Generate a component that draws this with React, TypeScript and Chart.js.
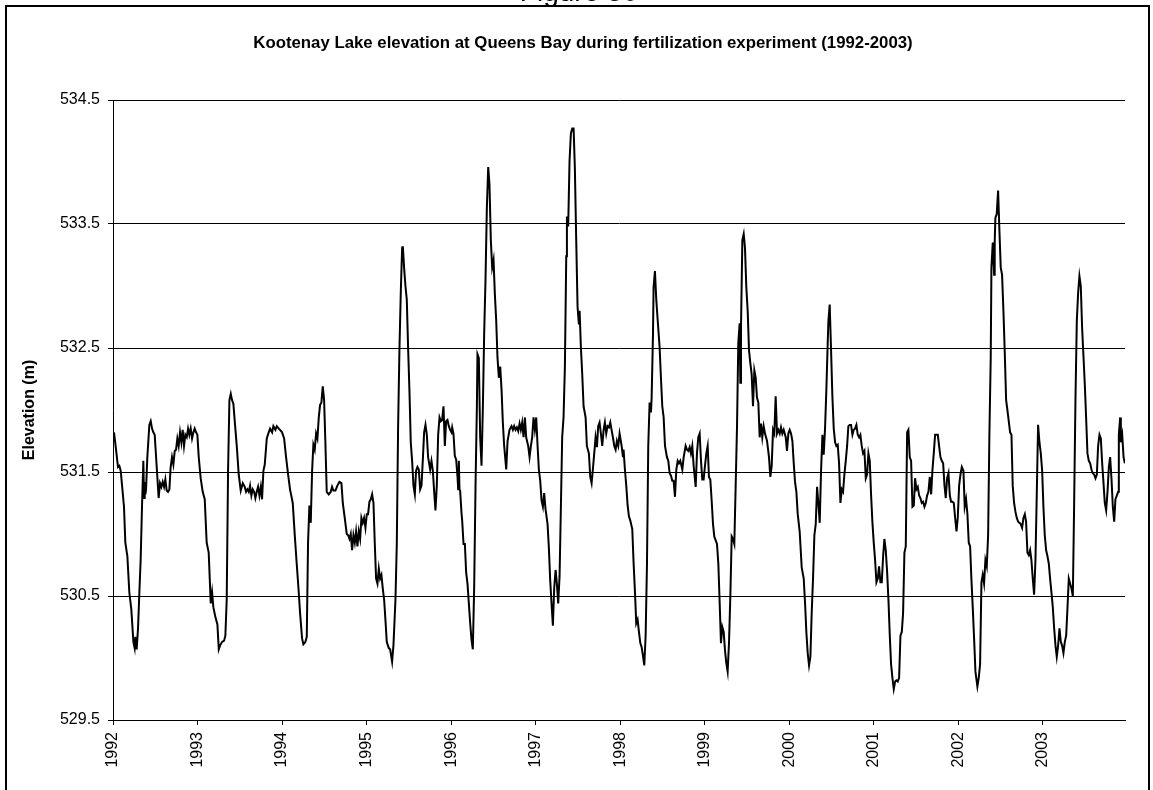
import React, { useEffect, useRef } from 'react';
import { Chart, registerables } from 'chart.js';

Chart.register(...registerables);

const figureLabel = 'Figure 30';
const chartTitle = 'Kootenay Lake elevation at Queens Bay during fertilization experiment (1992-2003)';
const yAxisTitle = 'Elevation (m)';
const yTickValues = [529.5, 530.5, 531.5, 532.5, 533.5, 534.5];
const xTickYears = [1992, 1993, 1994, 1995, 1996, 1997, 1998, 1999, 2000, 2001, 2002, 2003];

// [decimal year, elevation (m)]
const lake1992: [number, number][] = [
  [1992.012, 531.82], [1992.036, 531.68], [1992.059, 531.54], [1992.075, 531.55], [1992.091, 531.51],
  [1992.114, 531.34], [1992.130, 531.22], [1992.146, 530.93], [1992.170, 530.82], [1992.193, 530.53],
  [1992.217, 530.39], [1992.241, 530.13], [1992.256, 530.08], [1992.264, 530.17], [1992.280, 530.07],
  [1992.296, 530.24], [1992.312, 530.53], [1992.327, 530.79], [1992.343, 531.22], [1992.359, 531.59],
  [1992.367, 531.29], [1992.375, 531.42], [1992.383, 531.32], [1992.391, 531.36], [1992.406, 531.62],
  [1992.430, 531.88], [1992.446, 531.91], [1992.462, 531.85], [1992.477, 531.82], [1992.493, 531.80],
  [1992.517, 531.54], [1992.540, 531.29], [1992.556, 531.41], [1992.572, 531.38], [1992.588, 531.42],
  [1992.604, 531.38], [1992.619, 531.44], [1992.635, 531.35], [1992.651, 531.34], [1992.667, 531.36],
  [1992.682, 531.54], [1992.698, 531.62], [1992.714, 531.56], [1992.730, 531.67], [1992.746, 531.68],
  [1992.761, 531.77], [1992.777, 531.71], [1992.793, 531.82], [1992.809, 531.74], [1992.824, 531.84],
  [1992.840, 531.71], [1992.856, 531.80], [1992.872, 531.78], [1992.888, 531.85], [1992.903, 531.80],
  [1992.919, 531.85], [1992.935, 531.77], [1992.951, 531.82], [1992.966, 531.85], [1992.982, 531.82],
  [1992.998, 531.80],
];

const lake1993: [number, number][] = [
  [1993.014, 531.62], [1993.037, 531.45], [1993.061, 531.34], [1993.085, 531.28], [1993.108, 530.93],
  [1993.132, 530.85], [1993.156, 530.44], [1993.172, 530.53], [1993.187, 530.41], [1993.211, 530.33],
  [1993.235, 530.27], [1993.251, 530.07], [1993.266, 530.10], [1993.290, 530.13], [1993.314, 530.14],
  [1993.329, 530.18], [1993.345, 530.47], [1993.361, 531.51], [1993.377, 532.08], [1993.393, 532.13],
  [1993.408, 532.08], [1993.424, 532.05], [1993.440, 531.91], [1993.464, 531.71], [1993.487, 531.48],
  [1993.511, 531.35], [1993.535, 531.41], [1993.558, 531.38], [1993.574, 531.34], [1993.590, 531.36],
  [1993.606, 531.34], [1993.621, 531.39], [1993.637, 531.31], [1993.653, 531.36], [1993.669, 531.34],
  [1993.684, 531.29], [1993.700, 531.34], [1993.716, 531.38], [1993.732, 531.31], [1993.748, 531.38],
  [1993.763, 531.28], [1993.779, 531.51], [1993.795, 531.56], [1993.819, 531.77], [1993.842, 531.82],
  [1993.858, 531.85], [1993.882, 531.82], [1993.897, 531.87], [1993.921, 531.84], [1993.937, 531.87],
  [1993.961, 531.85], [1993.976, 531.84],
];

const lake1994: [number, number][] = [
  [1994.000, 531.82], [1994.024, 531.77], [1994.047, 531.62], [1994.071, 531.48], [1994.094, 531.36],
  [1994.126, 531.25], [1994.150, 530.99], [1994.173, 530.76], [1994.197, 530.53], [1994.213, 530.36],
  [1994.236, 530.16], [1994.252, 530.11], [1994.276, 530.13], [1994.292, 530.17], [1994.307, 530.93],
  [1994.323, 531.23], [1994.339, 531.09], [1994.355, 531.51], [1994.370, 531.72], [1994.386, 531.68],
  [1994.402, 531.81], [1994.418, 531.77], [1994.434, 531.94], [1994.449, 532.04], [1994.465, 532.06],
  [1994.481, 532.19], [1994.497, 532.08], [1994.512, 531.74], [1994.528, 531.34], [1994.552, 531.32],
  [1994.576, 531.34], [1994.591, 531.38], [1994.607, 531.35], [1994.631, 531.35], [1994.654, 531.39],
  [1994.678, 531.42], [1994.702, 531.41], [1994.718, 531.25], [1994.741, 531.13], [1994.765, 531.00],
  [1994.781, 530.99], [1994.797, 530.96], [1994.812, 531.00], [1994.828, 530.87], [1994.844, 530.99],
  [1994.860, 530.93], [1994.875, 531.02], [1994.891, 530.90], [1994.907, 531.02], [1994.923, 530.96],
  [1994.938, 531.13], [1994.954, 531.09], [1994.970, 531.13], [1994.986, 531.05],
];

const lake1995: [number, number][] = [
  [1995.002, 531.16], [1995.017, 531.16], [1995.033, 531.26], [1995.049, 531.28], [1995.065, 531.32],
  [1995.081, 531.25], [1995.096, 530.93], [1995.112, 530.64], [1995.128, 530.60], [1995.144, 530.72],
  [1995.159, 530.64], [1995.175, 530.67], [1995.191, 530.56], [1995.207, 530.47], [1995.223, 530.30],
  [1995.238, 530.13], [1995.262, 530.08], [1995.278, 530.07], [1995.301, 529.97], [1995.317, 530.10],
  [1995.341, 530.47], [1995.357, 530.93], [1995.372, 531.85], [1995.388, 532.49], [1995.404, 532.95],
  [1995.420, 533.31], [1995.428, 533.32], [1995.443, 533.15], [1995.459, 533.00], [1995.475, 532.89],
  [1995.491, 532.49], [1995.507, 532.14], [1995.522, 531.74], [1995.538, 531.59], [1995.554, 531.39],
  [1995.570, 531.32], [1995.585, 531.51], [1995.601, 531.54], [1995.617, 531.52], [1995.633, 531.36],
  [1995.649, 531.39], [1995.664, 531.59], [1995.680, 531.82], [1995.696, 531.88], [1995.712, 531.80],
  [1995.727, 531.62], [1995.751, 531.52], [1995.767, 531.59], [1995.783, 531.51], [1995.799, 531.34],
  [1995.814, 531.19], [1995.830, 531.39], [1995.846, 531.80], [1995.862, 531.94], [1995.877, 531.91],
  [1995.893, 531.92], [1995.909, 532.03], [1995.925, 531.71], [1995.940, 531.91], [1995.956, 531.92],
  [1995.972, 531.87], [1995.988, 531.84],
];

const lake1996: [number, number][] = [
  [1996.004, 531.82], [1996.012, 531.86], [1996.027, 531.81], [1996.043, 531.63], [1996.059, 531.60],
  [1996.075, 531.46], [1996.083, 531.36], [1996.091, 531.59], [1996.098, 531.36], [1996.106, 531.35],
  [1996.122, 531.17], [1996.130, 531.11], [1996.146, 530.92], [1996.162, 530.92], [1996.177, 530.69],
  [1996.193, 530.60], [1996.209, 530.44], [1996.225, 530.28], [1996.240, 530.15], [1996.256, 530.07],
  [1996.272, 530.57], [1996.288, 531.39], [1996.304, 532.03], [1996.311, 532.45], [1996.327, 532.42],
  [1996.343, 531.78], [1996.359, 531.55], [1996.375, 532.03], [1996.390, 532.61], [1996.406, 533.05],
  [1996.422, 533.63], [1996.438, 533.96], [1996.453, 533.82], [1996.469, 533.37], [1996.485, 533.15],
  [1996.501, 533.21], [1996.517, 532.93], [1996.532, 532.73], [1996.548, 532.42], [1996.564, 532.26],
  [1996.580, 532.35], [1996.596, 532.16], [1996.611, 531.90], [1996.627, 531.71], [1996.651, 531.52],
  [1996.667, 531.75], [1996.690, 531.84], [1996.714, 531.87], [1996.730, 531.84], [1996.745, 531.87],
  [1996.761, 531.84], [1996.777, 531.86], [1996.793, 531.83], [1996.809, 531.89], [1996.824, 531.84],
  [1996.840, 531.90], [1996.856, 531.78], [1996.872, 531.94], [1996.887, 531.78], [1996.911, 531.71],
  [1996.927, 531.62], [1996.943, 531.71], [1996.958, 531.78], [1996.974, 531.94], [1996.990, 531.84],
];

const lake1997: [number, number][] = [
  [1997.006, 531.94], [1997.022, 531.71], [1997.037, 531.52], [1997.053, 531.43], [1997.069, 531.27],
  [1997.085, 531.22], [1997.100, 531.33], [1997.116, 531.20], [1997.140, 531.08], [1997.156, 530.88],
  [1997.171, 530.63], [1997.187, 530.44], [1997.203, 530.26], [1997.219, 530.57], [1997.235, 530.71],
  [1997.250, 530.60], [1997.266, 530.44], [1997.282, 530.66], [1997.298, 531.23], [1997.313, 531.78],
  [1997.329, 531.94], [1997.345, 532.35], [1997.361, 533.24], [1997.369, 533.56], [1997.384, 533.48],
  [1997.400, 534.01], [1997.416, 534.23], [1997.432, 534.27], [1997.448, 534.27], [1997.463, 533.95],
  [1997.479, 533.37], [1997.495, 532.83], [1997.511, 532.69], [1997.519, 532.80], [1997.534, 532.51],
  [1997.550, 532.29], [1997.566, 532.03], [1997.590, 531.94], [1997.605, 531.71], [1997.629, 531.65],
  [1997.645, 531.46], [1997.661, 531.41], [1997.676, 531.52], [1997.692, 531.65], [1997.708, 531.78],
  [1997.724, 531.70], [1997.739, 531.87], [1997.755, 531.90], [1997.771, 531.81], [1997.787, 531.71],
  [1997.803, 531.84], [1997.818, 531.90], [1997.834, 531.81], [1997.850, 531.87], [1997.866, 531.86],
  [1997.882, 531.90], [1997.897, 531.84], [1997.913, 531.78], [1997.929, 531.71], [1997.945, 531.68],
  [1997.960, 531.75], [1997.976, 531.71], [1997.992, 531.81],
];

const lake1998: [number, number][] = [
  [1998.016, 531.71], [1998.032, 531.62], [1998.039, 531.68], [1998.055, 531.52], [1998.071, 531.39],
  [1998.087, 531.23], [1998.103, 531.14], [1998.118, 531.11], [1998.142, 531.04], [1998.158, 530.76],
  [1998.174, 530.53], [1998.189, 530.28], [1998.205, 530.31], [1998.221, 530.21], [1998.237, 530.12],
  [1998.252, 530.09], [1998.268, 530.02], [1998.284, 529.94], [1998.300, 530.18], [1998.316, 530.76],
  [1998.331, 531.71], [1998.347, 532.06], [1998.363, 531.98], [1998.371, 532.10], [1998.387, 532.61],
  [1998.394, 532.99], [1998.410, 533.12], [1998.426, 532.89], [1998.442, 532.73], [1998.465, 532.51],
  [1998.481, 532.26], [1998.497, 532.03], [1998.513, 531.94], [1998.529, 531.71], [1998.552, 531.62],
  [1998.568, 531.59], [1998.584, 531.49], [1998.600, 531.47], [1998.615, 531.43], [1998.631, 531.43],
  [1998.647, 531.30], [1998.663, 531.52], [1998.679, 531.59], [1998.694, 531.57], [1998.710, 531.59],
  [1998.734, 531.52], [1998.750, 531.62], [1998.773, 531.71], [1998.789, 531.68], [1998.805, 531.67],
  [1998.821, 531.70], [1998.836, 531.65], [1998.852, 531.71], [1998.868, 531.55], [1998.892, 531.38],
  [1998.907, 531.65], [1998.923, 531.78], [1998.939, 531.81], [1998.955, 531.59], [1998.970, 531.44],
  [1998.986, 531.44],
];

const lake1999: [number, number][] = [
  [1999.002, 531.55], [1999.018, 531.65], [1999.034, 531.71], [1999.049, 531.46], [1999.065, 531.44],
  [1999.081, 531.27], [1999.097, 531.08], [1999.112, 530.98], [1999.144, 530.92], [1999.160, 530.76],
  [1999.176, 530.44], [1999.191, 530.12], [1999.207, 530.25], [1999.223, 530.21], [1999.239, 530.06],
  [1999.254, 529.96], [1999.270, 529.89], [1999.286, 530.12], [1999.302, 530.50], [1999.318, 530.98],
  [1999.333, 530.96], [1999.349, 530.92], [1999.365, 531.39], [1999.381, 531.87], [1999.396, 532.54],
  [1999.412, 532.70], [1999.420, 532.22], [1999.428, 532.67], [1999.444, 533.37], [1999.460, 533.42],
  [1999.475, 533.31], [1999.491, 532.99], [1999.507, 532.80], [1999.523, 532.48], [1999.538, 532.38],
  [1999.554, 532.29], [1999.570, 532.03], [1999.586, 532.32], [1999.602, 532.26], [1999.617, 532.10],
  [1999.633, 532.06], [1999.649, 531.78], [1999.665, 531.89], [1999.680, 531.78], [1999.696, 531.87],
  [1999.712, 531.81], [1999.736, 531.75], [1999.759, 531.62], [1999.775, 531.46], [1999.791, 531.55],
  [1999.807, 531.84], [1999.822, 531.81], [1999.838, 532.11], [1999.854, 531.81], [1999.870, 531.84],
  [1999.886, 531.81], [1999.901, 531.86], [1999.917, 531.81], [1999.933, 531.84], [1999.957, 531.78],
  [1999.972, 531.67], [1999.988, 531.81],
];

const lake2000: [number, number][] = [
  [2000.004, 531.84], [2000.020, 531.81], [2000.036, 531.75], [2000.051, 531.58], [2000.067, 531.42],
  [2000.083, 531.34], [2000.099, 531.16], [2000.122, 531.02], [2000.146, 530.73], [2000.170, 530.64],
  [2000.186, 530.44], [2000.201, 530.21], [2000.217, 530.04], [2000.233, 529.94], [2000.249, 530.01],
  [2000.264, 530.36], [2000.280, 530.64], [2000.296, 530.99], [2000.312, 531.08], [2000.328, 531.38],
  [2000.343, 531.25], [2000.359, 531.09], [2000.375, 531.51], [2000.391, 531.80], [2000.406, 531.64],
  [2000.422, 531.85], [2000.438, 532.17], [2000.454, 532.55], [2000.462, 532.72], [2000.477, 532.85],
  [2000.493, 532.49], [2000.509, 532.11], [2000.525, 531.85], [2000.541, 531.74], [2000.556, 531.71],
  [2000.572, 531.72], [2000.588, 531.57], [2000.604, 531.25], [2000.620, 531.36], [2000.635, 531.34],
  [2000.651, 531.48], [2000.667, 531.59], [2000.683, 531.71], [2000.698, 531.87], [2000.714, 531.88],
  [2000.730, 531.88], [2000.746, 531.80], [2000.762, 531.84], [2000.777, 531.85], [2000.793, 531.88],
  [2000.809, 531.80], [2000.825, 531.78], [2000.840, 531.80], [2000.856, 531.71], [2000.872, 531.65],
  [2000.888, 531.67], [2000.904, 531.45], [2000.919, 531.48], [2000.935, 531.65], [2000.951, 531.59],
  [2000.967, 531.31], [2000.982, 531.10], [2000.998, 530.93],
];

const lake2001: [number, number][] = [
  [2001.014, 530.79], [2001.030, 530.61], [2001.046, 530.64], [2001.061, 530.74], [2001.077, 530.61],
  [2001.093, 530.61], [2001.109, 530.82], [2001.124, 530.96], [2001.140, 530.87], [2001.156, 530.70],
  [2001.172, 530.47], [2001.188, 530.18], [2001.203, 529.95], [2001.219, 529.84], [2001.235, 529.75],
  [2001.251, 529.81], [2001.266, 529.82], [2001.282, 529.81], [2001.298, 529.84], [2001.314, 530.18],
  [2001.330, 530.21], [2001.345, 530.36], [2001.361, 530.85], [2001.377, 530.90], [2001.393, 531.82],
  [2001.408, 531.84], [2001.424, 531.62], [2001.440, 531.59], [2001.456, 531.22], [2001.472, 531.23],
  [2001.487, 531.45], [2001.503, 531.36], [2001.519, 531.38], [2001.535, 531.31], [2001.550, 531.29],
  [2001.566, 531.25], [2001.582, 531.26], [2001.598, 531.22], [2001.614, 531.25], [2001.629, 531.31],
  [2001.645, 531.34], [2001.661, 531.46], [2001.677, 531.32], [2001.692, 531.51], [2001.708, 531.65],
  [2001.724, 531.80], [2001.740, 531.80], [2001.756, 531.80], [2001.771, 531.71], [2001.787, 531.62],
  [2001.803, 531.59], [2001.819, 531.57], [2001.835, 531.39], [2001.850, 531.29], [2001.866, 531.45],
  [2001.882, 531.49], [2001.898, 531.31], [2001.913, 531.26], [2001.929, 531.26], [2001.945, 531.25],
  [2001.961, 531.13], [2001.977, 531.02], [2001.992, 531.13],
];

const lake2002: [number, number][] = [
  [2002.008, 531.39], [2002.024, 531.48], [2002.040, 531.54], [2002.059, 531.51], [2002.074, 531.22],
  [2002.090, 531.28], [2002.106, 531.16], [2002.122, 530.93], [2002.138, 530.90], [2002.153, 530.64],
  [2002.169, 530.41], [2002.185, 530.16], [2002.201, 529.89], [2002.224, 529.77], [2002.240, 529.84],
  [2002.256, 529.95], [2002.272, 530.61], [2002.287, 530.67], [2002.303, 530.60], [2002.319, 530.79],
  [2002.335, 530.74], [2002.351, 530.99], [2002.366, 531.80], [2002.382, 532.43], [2002.390, 533.15],
  [2002.406, 533.35], [2002.422, 533.09], [2002.429, 533.36], [2002.437, 533.55], [2002.453, 533.58],
  [2002.469, 533.77], [2002.485, 533.44], [2002.500, 533.15], [2002.516, 533.09], [2002.532, 532.80],
  [2002.548, 532.46], [2002.564, 532.08], [2002.579, 532.00], [2002.595, 531.91], [2002.611, 531.82],
  [2002.627, 531.80], [2002.642, 531.39], [2002.658, 531.25], [2002.674, 531.18], [2002.690, 531.13],
  [2002.706, 531.10], [2002.721, 531.09], [2002.737, 531.08], [2002.753, 531.05], [2002.769, 531.13],
  [2002.785, 531.16], [2002.800, 531.10], [2002.816, 530.85], [2002.832, 530.83], [2002.848, 530.87],
  [2002.863, 530.79], [2002.879, 530.64], [2002.895, 530.51], [2002.911, 530.79], [2002.927, 531.34],
  [2002.942, 531.88], [2002.958, 531.74], [2002.974, 531.65], [2002.990, 531.51],
];

const lake2003: [number, number][] = [
  [2003.005, 531.22], [2003.021, 530.99], [2003.037, 530.87], [2003.053, 530.82], [2003.069, 530.76],
  [2003.084, 530.64], [2003.100, 530.53], [2003.116, 530.41], [2003.132, 530.24], [2003.148, 530.10],
  [2003.163, 530.01], [2003.179, 530.10], [2003.195, 530.24], [2003.211, 530.13], [2003.226, 530.10],
  [2003.242, 530.04], [2003.258, 530.13], [2003.274, 530.18], [2003.290, 530.41], [2003.305, 530.64],
  [2003.321, 530.60], [2003.337, 530.56], [2003.353, 530.50], [2003.368, 531.22], [2003.384, 532.08],
  [2003.400, 532.72], [2003.416, 532.95], [2003.431, 533.08], [2003.447, 533.00], [2003.463, 532.66],
  [2003.479, 532.43], [2003.495, 532.20], [2003.510, 531.94], [2003.526, 531.65], [2003.542, 531.59],
  [2003.558, 531.57], [2003.573, 531.52], [2003.589, 531.49], [2003.605, 531.48], [2003.621, 531.45],
  [2003.637, 531.48], [2003.652, 531.71], [2003.668, 531.80], [2003.684, 531.77], [2003.700, 531.57],
  [2003.715, 531.42], [2003.731, 531.25], [2003.747, 531.19], [2003.763, 531.34], [2003.779, 531.54],
  [2003.794, 531.62], [2003.810, 531.45], [2003.826, 531.22], [2003.842, 531.10], [2003.857, 531.28],
  [2003.873, 531.31], [2003.889, 531.34], [2003.897, 531.80], [2003.913, 531.94], [2003.921, 531.74],
  [2003.937, 531.80], [2003.953, 531.62], [2003.968, 531.57],
];

const allYears = [
  lake1992, lake1993, lake1994, lake1995, lake1996, lake1997,
  lake1998, lake1999, lake2000, lake2001, lake2002, lake2003,
];

const FONT = 'Arial, "Liberation Sans", Helvetica, sans-serif';

export default function App() {
  const canvasRef = useRef<HTMLCanvasElement>(null);

  useEffect(() => {
    const canvas = canvasRef.current;
    if (!canvas) return;
    const points = allYears.flat().map(([x, y]) => ({ x, y }));
    const chart = new Chart(canvas, {
      type: 'line',
      data: {
        datasets: [
          {
            data: points,
            borderColor: '#000',
            borderWidth: 2,
            pointRadius: 0,
            tension: 0,
            fill: false,
            yAxisID: 'y',
          },
        ],
      },
      options: {
        animation: false,
        responsive: false,
        devicePixelRatio: 1,
        layout: { padding: { left: 13, right: 0, top: 0, bottom: 0 } },
        plugins: {
          legend: { display: false },
          tooltip: { enabled: false },
          title: {
            display: true,
            text: chartTitle,
            fullSize: true,
            color: '#000',
            font: { family: FONT, size: 16.8, weight: 'bold' },
            padding: { top: 33.5, bottom: 46.34 },
          },
        },
        scales: {
          x: {
            type: 'linear',
            min: 1992,
            max: 2003.97,
            afterBuildTicks: (scale: any) => {
              scale.ticks = xTickYears.map((v) => ({ value: v }));
            },
            afterFit: (scale: any) => {
              scale.height = 70;
            },
            ticks: {
              autoSkip: false,
              minRotation: 90,
              maxRotation: 90,
              padding: 7,
              color: '#000',
              font: { family: FONT, size: 16 },
              callback: (v: any) => String(v),
            },
            grid: { drawOnChartArea: false, drawTicks: true, tickLength: 5, color: '#000' },
            border: { display: true, color: '#000', width: 1 },
          },
          y: {
            position: 'left',
            min: 529.5,
            max: 534.5,
            afterBuildTicks: (scale: any) => {
              scale.ticks = yTickValues.map((v) => ({ value: v }));
            },
            afterFit: (scale: any) => {
              scale.width = 100;
            },
            ticks: {
              padding: 8,
              color: '#000',
              font: { family: FONT, size: 16 },
              callback: (v: any) => Number(v).toFixed(1),
            },
            grid: { color: '#000', lineWidth: 1, tickLength: 5 },
            border: { display: true, color: '#000', width: 1 },
            title: {
              display: true,
              text: yAxisTitle,
              color: '#000',
              font: { family: FONT, size: 16, weight: 'bold' },
              padding: { top: 7.4, bottom: 0 },
            },
          },
          yRightSpace: {
            position: 'right',
            display: true,
            min: 0,
            max: 1,
            afterFit: (scale: any) => {
              scale.width = 28;
            },
            ticks: { display: false },
            grid: { display: false, drawTicks: false },
            border: { display: false },
          },
        },
      },
    });
    return () => chart.destroy();
  }, []);

  return (
    <div
      style={{
        position: 'absolute',
        left: 0,
        top: 0,
        width: 1153,
        height: 790,
        background: '#fff',
        overflow: 'hidden',
      }}
    >
      <canvas ref={canvasRef} width={1153} height={790} style={{ position: 'absolute', left: 0, top: 0 }} />
      <div
        style={{
          position: 'absolute',
          left: 0,
          width: 1158,
          top: -22,
          textAlign: 'center',
          fontFamily: FONT,
          fontSize: 28,
          lineHeight: '28px',
          color: '#000',
          whiteSpace: 'nowrap',
        }}
      >
        {figureLabel}
      </div>
      <div
        style={{
          position: 'absolute',
          left: 5,
          top: 5,
          width: 1145,
          height: 820,
          border: '2px solid #000',
          boxSizing: 'border-box',
          pointerEvents: 'none',
        }}
      />
    </div>
  );
}
